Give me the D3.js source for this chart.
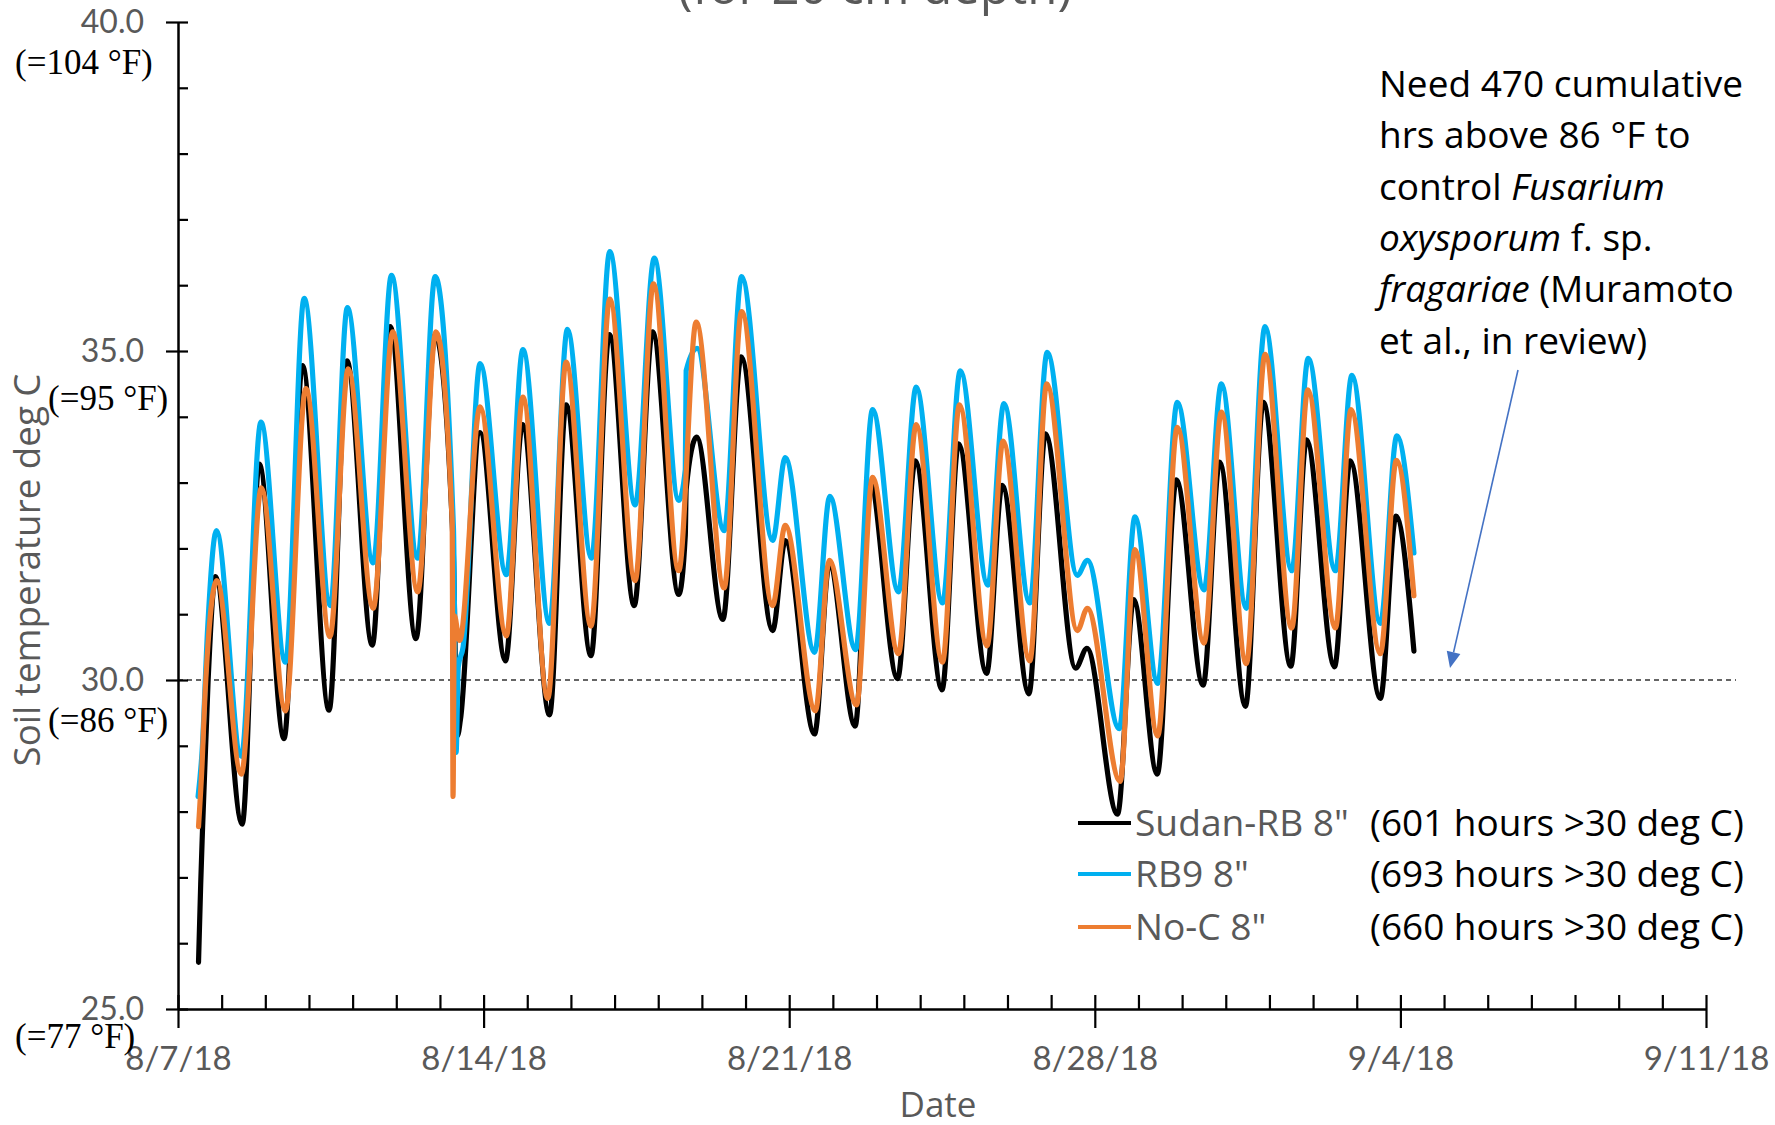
<!DOCTYPE html>
<html><head><meta charset="utf-8">
<script src="https://cdn.jsdelivr.net/npm/d3@7"></script>
<style>
html,body{margin:0;padding:0;background:#fff;}
svg{display:block;}
</style></head><body>
<svg id="chart" width="1775" height="1125"></svg>
<script>
// ---------------- data ----------------
const startDate = [2018, 7, 7];            // 8/7/18
const xTickLabels = ["8/7/18","8/14/18","8/21/18","8/28/18","9/4/18","9/11/18"];
const yTickValues = [25, 30, 35, 40];
const yTickLabelsF = ["(=77 °F)", "(=86 °F)", "(=95 °F)", "(=104 °F)"];
const seriesNames = ['Sudan-RB 8"', 'RB9 8"', 'No-C 8"'];
const seriesHours = ["(601 hours >30 deg C)", "(693 hours >30 deg C)", "(660 hours >30 deg C)"];
const seriesColors = ["#000000", "#00b0f0", "#ed7d31"];
const threshold = 30;
const titleText = "(for 20 cm depth)";
const xTitle = "Date";
const yTitle = "Soil temperature deg C";
const noteLines = [
  [["Need 470 cumulative", false]],
  [["hrs above 86 °F to", false]],
  [["control ", false], ["Fusarium", true]],
  [["oxysporum", true], [" f. sp.", false]],
  [["fragariae", true], [" (Muramoto", false]],
  [["et al., in review)", false]]
];
// [days since 8/7/18 00:00, soil temperature deg C] (daily highs / lows)
const sudanRB = [[0.47,25.71],[0.52,26.9],[0.56,27.7],[0.69,30.0],[0.86,31.57],[1.47,27.81],[1.86,33.28],[2.43,29.11],
  [2.85,34.78],[3.46,29.54],[3.87,34.85],[4.45,30.53],[4.86,35.37],[5.45,30.63],[5.89,35.25],[6.30,32.1],[6.40,29.15],
  [6.47,29.4],[6.92,33.76],[7.50,30.29],[7.89,33.88],[8.51,29.47],[8.89,34.18],[9.46,30.37],[9.88,35.25],[10.45,31.13],
  [10.87,35.29],[11.47,31.30],[11.62,32.2],[11.64,32.9],[11.88,33.69],[12.48,30.92],[12.90,34.91],[13.62,30.75],
  [13.91,32.12],[14.58,29.18],[14.92,31.76],[15.51,29.30],[15.85,33.00],[16.48,30.02],[16.89,33.33],[17.50,29.85],
  [17.88,33.59],[18.52,30.10],[18.88,32.96],[19.49,29.79],[19.87,33.74],[20.56,30.18],[20.82,30.48],[21.52,27.96],
  [21.89,31.22],[22.43,28.57],[22.87,33.04],[23.48,29.92],[23.86,33.31],[24.45,29.60],[24.86,34.22],[25.49,30.21],
  [25.85,33.65],[26.49,30.20],[26.85,33.33],[27.54,29.72],[27.90,32.49],[28.31,30.44]];
const rb9 = [[0.46,28.23],[0.55,28.9],[0.68,30.8],[0.88,32.27],[1.45,28.84],[1.90,33.92],[2.46,30.27],[2.89,35.80],
  [3.49,31.13],[3.88,35.66],[4.47,31.78],[4.89,36.15],[5.49,31.85],[5.89,36.13],[6.31,32.3],[6.37,28.9],[6.42,30.2],
  [6.53,30.5],[6.92,34.81],[7.52,31.60],[7.90,35.02],[8.51,30.86],[8.92,35.33],[9.47,31.85],[9.89,36.51],[10.47,32.66],
  [10.91,36.41],[11.47,32.73],[11.62,33.2],[11.64,34.7],[11.89,35.04],[12.51,32.27],[12.91,36.13],[13.62,32.12],
  [13.91,33.38],[14.58,30.42],[14.93,32.79],[15.52,30.46],[15.91,34.11],[16.50,31.34],[16.91,34.45],[17.51,31.17],
  [17.92,34.70],[18.55,31.44],[18.92,34.20],[19.51,31.17],[19.91,34.98],[20.60,31.59],[20.83,31.82],[21.56,29.26],
  [21.92,32.48],[22.44,29.95],[22.89,34.22],[23.50,31.37],[23.90,34.50],[24.47,31.09],[24.90,35.37],[25.51,31.66],
  [25.89,34.89],[26.51,31.66],[26.89,34.63],[27.54,30.86],[27.92,33.71],[28.31,31.93]];
const noC = [[0.47,27.77],[0.55,28.7],[0.62,29.8],[0.89,31.51],[1.45,28.57],[1.91,32.92],[2.46,29.53],[2.93,34.43],
  [3.48,30.66],[3.90,34.73],[4.47,31.09],[4.92,35.29],[5.49,31.34],[5.91,35.29],[6.28,32.4],[6.30,28.23],[6.33,30.98],
  [6.45,30.6],[6.92,34.15],[7.52,30.67],[7.90,34.30],[8.47,29.72],[8.89,34.83],[9.46,30.82],[9.89,35.79],[10.47,31.51],
  [10.89,36.02],[11.47,31.66],[11.87,35.44],[12.51,31.40],[12.91,35.60],[13.62,31.13],[13.91,32.35],[14.60,29.53],
  [14.92,31.82],[15.54,29.62],[15.91,33.08],[16.50,30.40],[16.91,33.88],[17.51,30.27],[17.90,34.18],[18.53,30.52],
  [18.90,33.63],[19.51,30.29],[19.90,34.50],[20.60,30.75],[20.83,31.09],[21.58,28.46],[21.92,31.98],[22.44,29.15],
  [22.89,33.84],[23.50,30.56],[23.90,34.07],[24.47,30.25],[24.90,34.95],[25.51,30.79],[25.88,34.41],[26.51,30.79],
  [26.87,34.11],[27.54,30.40],[27.91,33.34],[28.31,31.28]];
const seriesData = [sudanRB, rb9, noC];

// ---------------- layout ----------------
const svg = d3.select("#chart");
const gray = "#595959";
const t0 = new Date(startDate[0], startDate[1], startDate[2]);
const toDate = d => new Date(t0.getTime() + d * 86400000);
const x = d3.scaleTime().domain([t0, d3.timeDay.offset(t0, 35)]).range([178, 1706]);
const y = d3.scaleLinear().domain([25, 40]).range([1009, 22]);

function fit(sel, w) {
  const len = sel.node().getComputedTextLength();
  const fs = parseFloat(sel.attr("font-size"));
  sel.attr("font-size", fs * w / len);
  return fs * w / len;
}

// threshold dashed line
svg.append("line")
  .attr("x1", x.range()[0]).attr("x2", 1736)
  .attr("y1", y(threshold)).attr("y2", y(threshold))
  .attr("stroke", "#333").attr("stroke-width", 1.4).attr("stroke-dasharray", "5,4");

// series
const line = d3.line().x(d => x(toDate(d[0]))).y(d => y(d[1])).curve(d3.curveMonotoneX);
seriesData.forEach((s, i) => {
  svg.append("path").datum(s).attr("d", line)
    .attr("fill", "none").attr("stroke", seriesColors[i])
    .attr("stroke-width", 5.2).attr("stroke-linejoin", "round").attr("stroke-linecap", "round");
});

// Y axis: inside ticks every degree
const yMinor = svg.append("g").attr("transform", `translate(${x.range()[0]},0)`)
  .call(d3.axisRight(y).tickValues(d3.range(25, 40.5, 1)).tickSize(10).tickFormat(""));
yMinor.select(".domain").remove();
// Y axis: major ticks + labels
const yMajor = svg.append("g").attr("transform", `translate(${x.range()[0]},0)`)
  .call(d3.axisLeft(y).tickValues(yTickValues).tickSize(12).tickSizeOuter(0).tickPadding(22).tickFormat(d3.format(".1f")));
yMajor.selectAll("text").attr("font-family", "Lato").attr("font-size", 32).attr("fill", gray);

// X axis: inside daily ticks
const days = d3.range(0, 36).map(d => d3.timeDay.offset(t0, d));
const xMinor = svg.append("g").attr("transform", `translate(0,${y(25)})`)
  .call(d3.axisTop(x).tickValues(days).tickSize(14).tickFormat(""));
xMinor.select(".domain").remove();
const weeks = d3.range(0, 6).map(d => d3.timeDay.offset(t0, 7 * d));
const xMajor = svg.append("g").attr("transform", `translate(0,${y(25)})`)
  .call(d3.axisBottom(x).tickValues(weeks).tickSize(19).tickSizeOuter(0).tickFormat((d, i) => xTickLabels[i]));
xMajor.selectAll("text").attr("font-family", "Lato").attr("font-size", 33).attr("fill", gray)
  .attr("y", 49).attr("dy", "0.36em");

svg.selectAll(".domain").attr("stroke", "#000").attr("stroke-width", 2.5);
svg.selectAll(".tick line").attr("stroke", "#000").attr("stroke-width", 2.2);

// Fahrenheit labels
const fOffsets = [[15, 27], [48, 40], [48, 47], [15, 40]];
yTickValues.forEach((v, i) => {
  svg.append("text").text(yTickLabelsF[i])
    .attr("x", fOffsets[i][0]).attr("y", y(v) + fOffsets[i][1]).attr("dy", "0.33em")
    .attr("font-family", "Liberation Serif").attr("font-size", 35).attr("fill", "#000");
});

// axis titles
const yt = svg.append("text").text(yTitle).attr("transform", "translate(40,570) rotate(-90)")
  .attr("text-anchor", "middle").attr("font-family", "Open Sans").attr("font-size", 36).attr("fill", gray);
fit(yt, 393);
const xt = svg.append("text").text(xTitle).attr("x", 938).attr("y", 1117)
  .attr("text-anchor", "middle").attr("font-family", "Open Sans").attr("font-size", 36).attr("fill", gray);
fit(xt, 77);

// cut-off title
const tt = svg.append("text").text(titleText).attr("x", 875).attr("y", 4)
  .attr("text-anchor", "middle").attr("font-family", "Open Sans").attr("font-size", 38).attr("fill", gray);
fit(tt, 394);

// note text
let noteFs = 36;
const noteG = svg.append("g");
noteLines.forEach((ln, i) => {
  const t = noteG.append("text").attr("x", 1379).attr("y", 97 + i * 51.3)
    .attr("font-family", "Open Sans").attr("font-size", noteFs).attr("fill", "#000");
  ln.forEach(part => t.append("tspan").text(part[0]).attr("font-style", part[1] ? "italic" : "normal"));
  if (i === 0) noteFs = fit(t, 364);
  else t.attr("font-size", noteFs);
});

// arrow
const a0 = [1518, 370], a1 = [1450, 668];
const ang = Math.atan2(a1[1] - a0[1], a1[0] - a0[0]);
const hl = 16, hw = 7;
const base = [a1[0] - hl * Math.cos(ang), a1[1] - hl * Math.sin(ang)];
svg.append("line").attr("x1", a0[0]).attr("y1", a0[1]).attr("x2", base[0]).attr("y2", base[1])
  .attr("stroke", "#4472c4").attr("stroke-width", 1.6);
svg.append("path").attr("d", d3.line()([a1,
  [base[0] + hw * Math.sin(ang), base[1] - hw * Math.cos(ang)],
  [base[0] - hw * Math.sin(ang), base[1] + hw * Math.cos(ang)]]) + "Z")
  .attr("fill", "#4472c4");

// legend
const rowsY = [823, 874, 927];
let legFs = 36, hrsFs = 36;
seriesNames.forEach((n, i) => {
  svg.append("line").attr("x1", 1078).attr("x2", 1131).attr("y1", rowsY[i]).attr("y2", rowsY[i])
    .attr("stroke", seriesColors[i]).attr("stroke-width", 4);
  const lt = svg.append("text").text(n).attr("x", 1135).attr("y", rowsY[i]).attr("dy", "0.36em")
    .attr("font-family", "Open Sans").attr("font-size", legFs).attr("fill", gray);
  if (i === 0) legFs = fit(lt, 214); else lt.attr("font-size", legFs);
  const ht = svg.append("text").text(seriesHours[i]).attr("x", 1370).attr("y", rowsY[i]).attr("dy", "0.36em")
    .attr("font-family", "Open Sans").attr("font-size", hrsFs).attr("fill", "#000");
  if (i === 0) hrsFs = fit(ht, 374); else ht.attr("font-size", hrsFs);
});
</script>
</body></html>
